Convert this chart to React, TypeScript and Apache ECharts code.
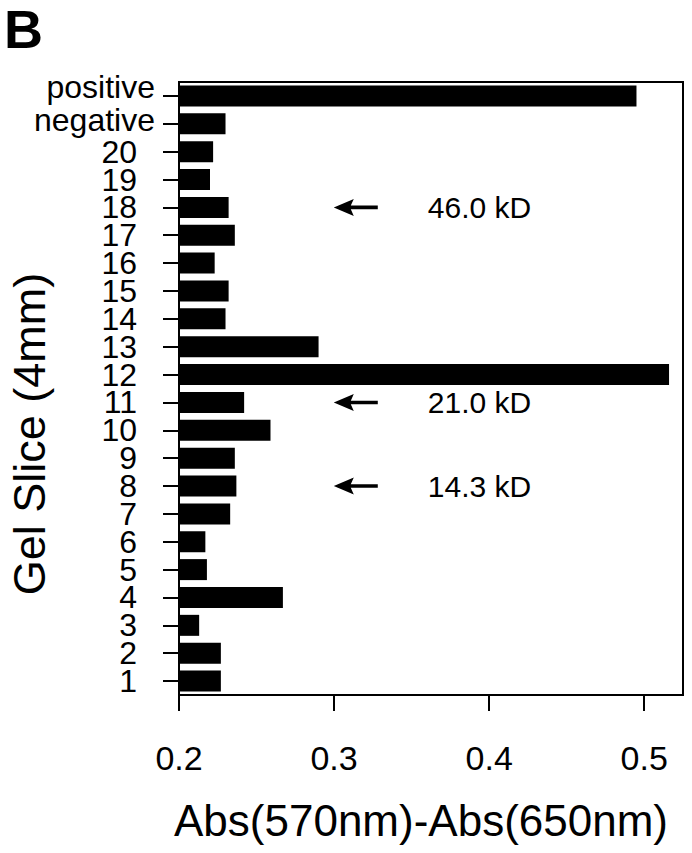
import React, { useEffect, useRef } from "react";
import * as echarts from "echarts";

const slices = ["1", "2", "3", "4", "5", "6", "7", "8", "9", "10", "11", "12", "13", "14", "15", "16", "17", "18", "19", "20", "negative", "positive"];
const absValues = [0.227, 0.227, 0.213, 0.267, 0.218, 0.217, 0.233, 0.237, 0.236, 0.259, 0.242, 0.516, 0.290, 0.230, 0.232, 0.223, 0.236, 0.232, 0.220, 0.222, 0.230, 0.495];
const xTicks = [0.2, 0.3, 0.4, 0.5];
const markerSlices = ["18", "11", "8"];
const markerLabels = ["46.0 kD", "21.0 kD", "14.3 kD"];
const arrowX = 0.314;

const FONT = "'Liberation Sans', Arial, Helvetica, sans-serif";
const ARROW = "path://M0 8.5 L20 0 L17 6.7 L44 6.7 L44 10.3 L17 10.3 L20 17 Z";

export default function App() {
  const ref = useRef<HTMLDivElement>(null);
  useEffect(() => {
    document.body.style.margin = "0";
    const chart = echarts.init(ref.current!, null, { renderer: "svg" });
    chart.setOption({
      animation: false,
      backgroundColor: "#ffffff",
      textStyle: { fontFamily: FONT, color: "#000" },
      grid: {
        left: 179,
        right: 9,
        top: 82,
        bottom: 158,
        show: true,
        borderColor: "#000",
        borderWidth: 2,
        backgroundColor: "transparent",
      },
      xAxis: {
        type: "value",
        min: xTicks[0],
        max: 0.525,
        interval: 0.1,
        name: "Abs(570nm)-Abs(650nm)",
        nameLocation: "middle",
        nameGap: 103,
        nameTextStyle: { fontSize: 44, color: "#000", fontFamily: FONT, padding: [0, 20, 0, 0] },
        axisLine: { show: true, lineStyle: { color: "#000", width: 2 } },
        axisTick: { show: true, length: 16, lineStyle: { color: "#000", width: 2 } },
        axisLabel: {
          show: true,
          fontSize: 34,
          color: "#000",
          margin: 46,
          showMaxLabel: false,
          formatter: (v: number) => (xTicks.some((t) => Math.abs(t - v) < 1e-6) ? v.toFixed(1) : ""),
        },
        splitLine: { show: false },
      },
      yAxis: {
        type: "category",
        data: slices,
        axisLine: { show: true, lineStyle: { color: "#000", width: 2 } },
        axisTick: { show: true, length: 16, alignWithLabel: true, interval: 0, lineStyle: { color: "#000", width: 2 } },
        axisLabel: {
          show: true,
          interval: 0,
          margin: 24,
          fontSize: 32,
          color: "#000",
          formatter: (v: string) => {
            if (v === "positive") return "{pos|" + v + "}";
            if (v === "negative") return "{neg|" + v + "}";
            return "{n|" + v + "}";
          },
          rich: {
            pos: { fontSize: 32, lineHeight: 20, color: "#000", fontFamily: FONT, padding: [0, 0, 18, 0] },
            neg: { fontSize: 32, lineHeight: 20, color: "#000", fontFamily: FONT, padding: [0, 0, 8, 0] },
            n: { fontSize: 32, lineHeight: 24, color: "#000", fontFamily: FONT, padding: [0, 18, 0, 0] },
          },
        },
        splitLine: { show: false },
      },
      series: [
        {
          type: "bar",
          data: absValues,
          barWidth: 21,
          clip: true,
          itemStyle: { color: "#000" },
        },
        {
          type: "scatter",
          symbol: ARROW,
          symbolSize: [44, 17],
          itemStyle: { color: "#000", opacity: 1 },
          data: markerSlices.map((s, i) => ({ value: [arrowX, s], name: markerLabels[i] })),
          label: {
            show: true,
            position: "right",
            distance: 50,
            formatter: (p: any) => p.name,
            fontSize: 30,
            color: "#000",
            opacity: 1,
            fontFamily: FONT,
          },
        },
      ],
      graphic: [
        {
          type: "text",
          x: 4,
          y: 29,
          style: { text: "B", fontSize: 54, fontWeight: "bold", fill: "#000", fontFamily: FONT, align: "left", verticalAlign: "middle" },
        },
        {
          type: "text",
          x: 29,
          y: 434,
          rotation: Math.PI / 2,
          style: { text: "Gel Slice (4mm)", fontSize: 45, fill: "#000", fontFamily: FONT, align: "center", verticalAlign: "middle" },
        },
      ],
    });
    return () => chart.dispose();
  }, []);
  return <div ref={ref} style={{ width: 692, height: 853 }} />;
}
